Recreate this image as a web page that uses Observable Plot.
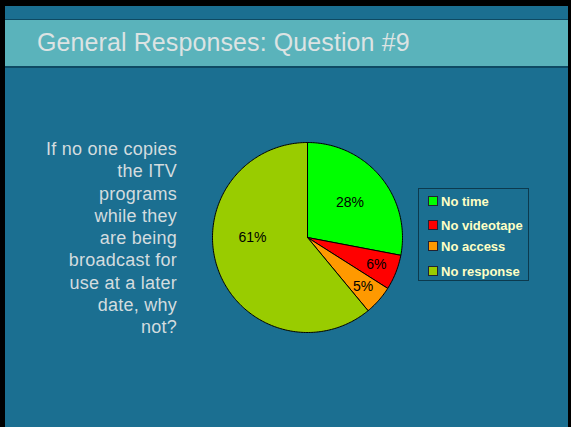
<!DOCTYPE html>
<html>
<head>
<meta charset="utf-8">
<script src="https://cdn.jsdelivr.net/npm/d3@7"></script>
<script src="https://cdn.jsdelivr.net/npm/@observablehq/plot@0.6"></script>
<style>
  html, body { margin: 0; padding: 0; background: #000; }
  #slide { position: relative; width: 571px; height: 427px; overflow: hidden; background: #000; font-family: "Liberation Sans", Arial, sans-serif; }
  #main { position: absolute; left: 5px; top: 6px; width: 563px; height: 421px; background: #1B6F91; }
  #band { position: absolute; left: 5px; top: 19px; width: 563px; height: 46px; background: #5AB3BB; border-top: 1px solid #0E4A63; border-bottom: 2px solid #0E4A63; }
  #title { position: absolute; left: 37px; top: 28px; font-size: 25px; letter-spacing: 0.1px; color: #DCE3E3; white-space: nowrap; }
  #question { position: absolute; right: 394px; top: 138px; text-align: right; font-size: 18px; letter-spacing: 0.25px; line-height: 22.3px; color: #D3DCDF; white-space: nowrap; }
  #pie { position: absolute; left: 207px; top: 137px; }
  #legend { position: absolute; left: 418px; top: 188px; width: 109px; height: 91px; border: 1.5px solid #0C3A4E; }
  .row { position: absolute; left: 9px; font-size: 13px; font-weight: bold; color: #FFFFC4; white-space: nowrap; line-height: 14px; }
  .sw { display: inline-block; width: 8px; height: 8px; border: 1px solid #223; margin-right: 3px; vertical-align: 0px; }
</style>
</head>
<body>
<div id="slide">
  <div id="main"></div>
  <div id="band"></div>
  <div id="title">General Responses: Question #9</div>
  <div id="question"></div>
  <div id="pie"></div>
  <div id="legend"></div>
</div>
<script>
const categories = ["No time", "No videotape", "No access", "No response"];
const percents = [28, 6, 5, 61];
const colors = ["#00FF00", "#FF0000", "#FF9900", "#99CC00"];
const titleText = "General Responses: Question #9";
const questionLines = ["If no one copies", "the ITV", "programs", "while they", "are being", "broadcast for", "use at a later", "date, why", "not?"];

document.getElementById("title").textContent = titleText;
document.getElementById("question").innerHTML = questionLines.map(s => s.replace(/&/g, "&amp;")).join("<br>");

// Pie geometry derived from the values
const total = d3.sum(percents);
const pieGen = d3.pie().sort(null).value(d => d.value);
const arcs = pieGen(categories.map((c, i) => ({cat: c, value: percents[i]})));
const pts = [];
const labels = [];
arcs.forEach(a => {
  const cat = a.data.cat;
  pts.push({cat, x: 0, y: 0});
  const n = Math.max(2, Math.ceil((a.endAngle - a.startAngle) / (Math.PI / 180)));
  for (let k = 0; k <= n; k++) {
    const t = a.startAngle + (a.endAngle - a.startAngle) * k / n;
    pts.push({cat, x: Math.sin(t), y: Math.cos(t)});
  }
  pts.push({cat, x: 0, y: 0});
  const mid = (a.startAngle + a.endAngle) / 2;
  const frac = a.data.value / total;
  const r = frac < 0.1 ? 0.78 : 0.58;
  const adj = frac > 0.5 ? 0.35 : 0;
  labels.push({x: Math.sin(mid + adj) * r, y: Math.cos(mid + adj) * r, text: Math.round(frac * 100) + "%"});
});

const chart = Plot.plot({
  width: 200,
  height: 200,
  margin: 5,
  x: {domain: [-1, 1], axis: null},
  y: {domain: [-1, 1], axis: null},
  color: {domain: categories, range: colors},
  style: {background: "transparent", overflow: "visible"},
  marks: [
    Plot.line(pts, {x: "x", y: "y", z: "cat", fill: "cat", stroke: "#000", strokeWidth: 1, strokeLinejoin: "round", curve: "linear"}),
    Plot.text(labels, {x: "x", y: "y", text: "text", fill: "#000", fontSize: 14, fontFamily: "Liberation Sans, Arial, sans-serif"})
  ]
});
document.getElementById("pie").appendChild(chart);

// Legend built from the same arrays and scale
const legend = document.getElementById("legend");
const rowTops = [6, 30, 51, 75.5];
categories.forEach((c, i) => {
  const row = document.createElement("div");
  row.className = "row";
  row.style.top = rowTops[i] + "px";
  const sw = document.createElement("span");
  sw.className = "sw";
  sw.style.background = colors[i];
  row.appendChild(sw);
  row.appendChild(document.createTextNode(c));
  legend.appendChild(row);
});
</script>
</body>
</html>
